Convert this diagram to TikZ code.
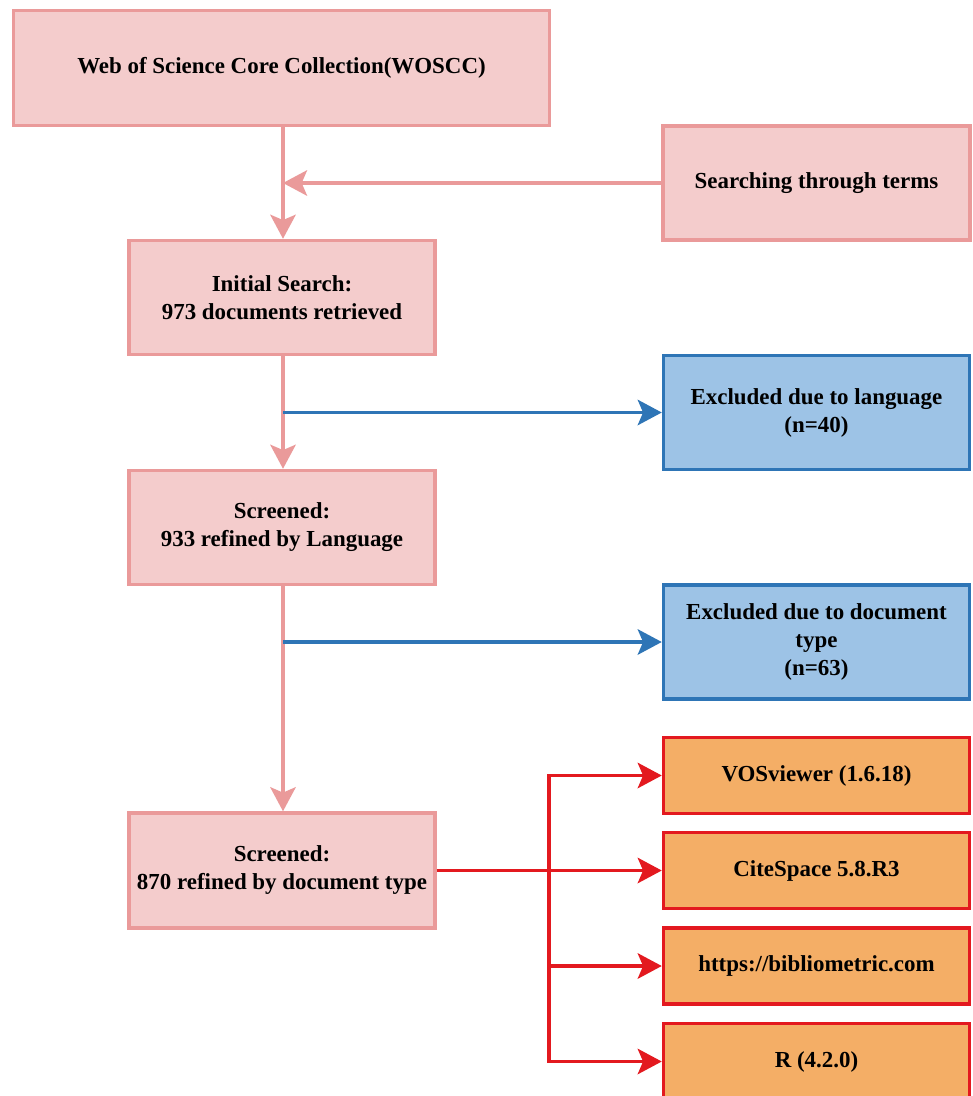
\documentclass[tikz,border=0pt]{standalone}
\usepackage{fontspec}
\setmainfont{Liberation Serif}
\usetikzlibrary{arrows.meta}
\definecolor{pinkfill}{HTML}{F4CCCC}
\definecolor{pinkline}{HTML}{EA9A9A}
\definecolor{bluefill}{HTML}{9DC3E6}
\definecolor{blueline}{HTML}{2E75B6}
\definecolor{orangefill}{HTML}{F4AE66}
\definecolor{redline}{HTML}{E3191F}
\tikzset{
  box/.style={rectangle, draw, line width=2.6pt, minimum width=306*0.75pt, minimum height=114*0.75pt,
    align=center, font=\fontsize{17.2}{21}\selectfont\bfseries, inner sep=2pt},
  pinkbox/.style={box, draw=pinkline, fill=pinkfill},
  bluebox/.style={box, draw=blueline, fill=bluefill},
  orangebox/.style={box, draw=redline, fill=orangefill, minimum height=76*0.75pt},
  tipstyle/.style={-{Stealth[length=18pt,width=19pt,inset=4pt]}},
  pinkarrow/.style={draw=pinkline, line width=2.8pt, tipstyle},
  bluearrow/.style={draw=blueline, line width=2.8pt, tipstyle},
  redarrow/.style={draw=redline, line width=2.8pt, tipstyle},
  redtrunk/.style={draw=redline, line width=2.8pt},
}
\begin{document}
\begin{tikzpicture}[x=0.75pt,y=-0.75pt]
\useasboundingbox[fill=white] (0,0) rectangle (972,1096);
\node[pinkbox, minimum width=536*0.75pt, minimum height=115*0.75pt] (wos) at (281.5,68) {Web of Science Core Collection(WOSCC)};
\node[pinkbox, minimum width=307*0.75pt] (search) at (816.5,183) {Searching through terms};
\node[pinkbox] (init) at (282,297.5) {Initial Search:\\973 documents retrieved};
\node[bluebox] (lang) at (816.5,412.5) {Excluded due to language\\(n=40)};
\node[pinkbox] (s933) at (282,527.5) {Screened:\\933 refined by Language};
\node[bluebox] (doct) at (816.5,642) {Excluded due to document\\type\\(n=63)};
\node[pinkbox, minimum height=115*0.75pt] (s870) at (282,870.5) {Screened:\\870 refined by document type};
\node[orangebox] (vos) at (816.5,775.5) {VOSviewer (1.6.18)};
\node[orangebox] (cite) at (816.5,870.5) {CiteSpace 5.8.R3};
\node[orangebox] (biblio) at (816.5,966) {https://bibliometric.com};
\node[orangebox] (r) at (816.5,1061.5) {R (4.2.0)};

\draw[pinkarrow] (wos.south -| 283,0) -- (init.north -| 283,0);
\coordinate (join) at (283,183);
\draw[pinkarrow] (search.west) -- (join);
\draw[pinkarrow] (init.south -| 283,0) -- (s933.north -| 283,0);
\draw[pinkarrow] (s933.south -| 283,0) -- (s870.north -| 283,0);
\coordinate (b1) at (283,412.5);
\coordinate (b2) at (283,642);
\draw[bluearrow] (b1) -- (lang.west);
\draw[bluearrow] (b2) -- (doct.west);

\coordinate (ttop) at (549,775.5);
\coordinate (tbot) at (549,1061.5);
\coordinate (tmid) at (549,966);
\draw[redtrunk, line cap=rect] (ttop) -- (tbot);
\draw[redarrow] (s870.east) -- (cite.west);
\draw[redarrow] (ttop) -- (vos.west);
\draw[redarrow] (tmid) -- (biblio.west);
\draw[redarrow] (tbot) -- (r.west);
\end{tikzpicture}
\end{document}
